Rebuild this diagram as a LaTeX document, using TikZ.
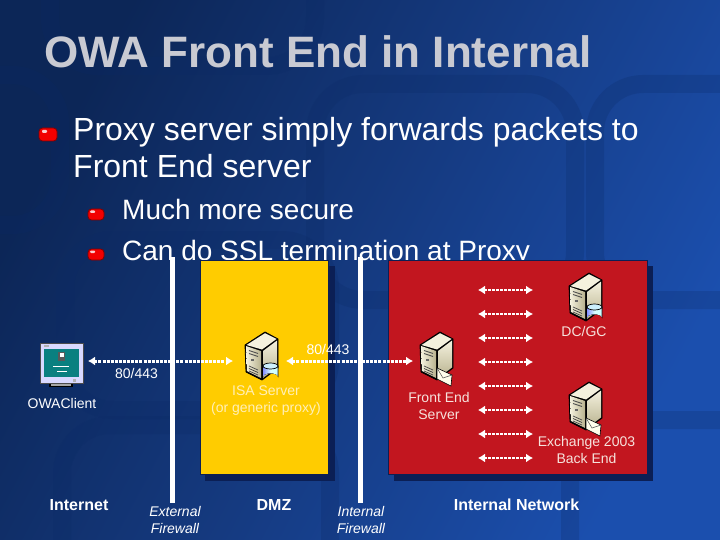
\documentclass[tikz,border=0pt]{standalone}
\usepackage{fontspec}
\setmainfont{Liberation Sans}
\usetikzlibrary{arrows.meta,shadings}
\definecolor{bgdark}{HTML}{0C2657}
\definecolor{bgmid}{HTML}{153A80}
\definecolor{bglight}{HTML}{1B4FAE}
\definecolor{band}{HTML}{0B2A66}
\definecolor{shadownavy}{HTML}{0B1F55}
\definecolor{dmzyellow}{HTML}{FFCC00}
\definecolor{netred}{HTML}{C2161F}
\definecolor{titlegrey}{HTML}{C9CAD2}
\definecolor{paleyellow}{HTML}{FFEFB8}
\definecolor{palered}{HTML}{F6E2DC}
\definecolor{teal}{HTML}{0A8080}
\definecolor{beigea}{HTML}{F4F1DE}
\definecolor{beigeb}{HTML}{B8B28E}
\newcommand{\fsz}[1]{\fontsize{#1}{#1}\selectfont}
\tikzset{
  x=1pt,y=-1pt,
  bgband/.style={draw=band,opacity=.24,line width=18pt,rounded corners=48pt},
  bulletbig/.style={draw=black!50!red,line width=.8pt,fill=red!95!black,rounded corners=3.5pt},
  bulletgloss/.style={fill=white,opacity=.8,rounded corners=1pt},
  titletext/.style={anchor=base west,inner sep=0pt,text=titlegrey,font=\bfseries\fsz{44}},
  bodyone/.style={anchor=base west,inner sep=0pt,text=white,font=\fsz{32}},
  bodytwo/.style={anchor=base west,inner sep=0pt,text=white,font=\fsz{28}},
  zonebox/.style={draw=shadownavy,line width=1pt},
  zoneshadow/.style={fill=shadownavy},
  firewallbar/.style={fill=white},
  flow/.style={white,line width=3pt,dash pattern=on 3pt off 1.1pt,{Latex[length=7pt,width=9pt]}-{Latex[length=7pt,width=9pt]}},
  flowshort/.style={white,line width=2.6pt,dash pattern=on 3pt off 1pt,{Latex[length=7pt,width=9pt]}-{Latex[length=7pt,width=9pt]}},
  smalltext/.style={inner sep=0pt,text=white,font=\fsz{14},align=center},
  yellowtext/.style={inner sep=0pt,text=paleyellow,font=\fsz{14},align=center},
  redtext/.style={inner sep=0pt,text=palered,font=\fsz{14},align=center},
  boldtext/.style={inner sep=0pt,text=white,font=\bfseries\fsz{16}},
  italictext/.style={inner sep=0pt,text=white,font=\itshape\fsz{14}},
  serverpic/.pic={
    \draw[line width=.8pt,line join=round,fill=black] (0,13)--(20,0)--(33,7)--(33,36)--(17,48)--(1,40)--cycle;
    \fill[left color=beigea,right color=beigeb] (1,14)--(16,19)--(16,46)--(2,39)--cycle;
    \fill[top color=beigea,bottom color=beigeb] (18,19)--(32,8.5)--(32,35.5)--(18,46)--cycle;
    \fill[beigea] (1.5,13)--(20,1.2)--(31.5,7)--(17,17.5)--cycle;
    \draw[black!70,line width=.8pt] (4,18.5)--(13,21.5) (4,21.5)--(13,24.5);
    \fill[black!60] (6,27) rectangle (9,29);
    \draw[black!75,line width=.7pt] (4,34)--(13,38) (4,36.5)--(13,40.5) (4,39)--(13,43);
  },
  dbpic/.pic={
    \draw[black,line width=.7pt,fill=cyan!30!blue!45] (0,4)--(0,14) arc[start angle=180,end angle=360,x radius=7.5,y radius=3] --(15,4);
    \fill[left color=cyan!10!blue!45,right color=cyan!25!white!85,middle color=white!85!cyan] (.5,4)--(.5,14) arc[start angle=180,end angle=360,x radius=7,y radius=2.7]--(14.5,4)--cycle;
    \draw[black,line width=.7pt,fill=cyan!20!white] (7.5,4) ellipse[x radius=7.5,y radius=3];
  },
  mailpic/.pic={
    \draw[black,line width=.6pt,fill=white!92!yellow] (0,0)--(15,7)--(14,18)--(0,11)--cycle;
    \draw[black!70,line width=.5pt] (0,0)--(6,10)--(15,7);
  },
  clientpic/.pic={
    \fill[black] (9,40) rectangle (33,44);
    \fill[gray!70] (11,40) rectangle (31,42.5);
    \draw[gray!60!black,line width=.5pt,fill=white!85!blue] (0,0) rectangle (43,40);
    \fill[teal] (4,6) rectangle (39,34);
    \fill[gray!60] (4,2) rectangle (9,3.5);
    \fill[gray!60] (33,36) rectangle (36,38.5);
    \fill[gray!70!black] (18,9) rectangle (25,18);
    \fill[white!85] (19.5,10) rectangle (23.5,14);
    \draw[white,line width=.8pt] (13,23)--(29,23) (17,28)--(27,28);
  }
}
\begin{document}
\begin{tikzpicture}
\useasboundingbox (0,0) rectangle (720,540);
\begin{scope}
\clip (0,0) rectangle (720,540);
\fill[top color=bgdark,bottom color=bglight,middle color=bgmid,shading angle=62] (0,0) rectangle (720,540);
% background motif
\draw[bgband] (50,-70) rectangle (315,66);
\draw[bgband] (315,84) rectangle (575,300);
\draw[bgband] (-70,75) rectangle (60,225);
\draw[bgband] (62,425) rectangle (330,640);
\draw[bgband] (595,84) rectangle (800,300);
\draw[bgband] (570,420) rectangle (800,640);
\draw[bgband] (65,240) rectangle (330,410);
\end{scope}

% title and bullets
\node[titletext] (title) at (44,68) {OWA Front End in Internal};
\node[bodyone] (b1a) at (73,141) {Proxy server simply forwards packets to};
\node[bodyone] (b1b) at (73,178) {Front End server};
\node[bodytwo] (b2) at (122,220) {Much more secure};
\node[bodytwo] (b3) at (122,260) {Can do SSL termination at Proxy};
\fill[bulletbig] (39,128) rectangle (57,141);
\fill[bulletgloss] (42,130) rectangle (47,133);
\fill[bulletbig] (88,209) rectangle (104,220);
\fill[bulletgloss] (90,210.5) rectangle (95,213);
\fill[bulletbig] (88,249) rectangle (104,260);
\fill[bulletgloss] (90,250.5) rectangle (95,253);

% zones
\fill[zoneshadow] (205,266) rectangle (335,481);
\filldraw[zonebox,fill=dmzyellow] (200,260) rectangle (328,474);
\fill[zoneshadow] (394,266) rectangle (653,481);
\filldraw[zonebox,fill=netred] (388,260) rectangle (647,474);

% firewalls
\fill[firewallbar] (170,257) rectangle (175,503);
\fill[firewallbar] (358,257) rectangle (363,503);

% icons
\pic at (40,343) {clientpic};
\pic at (245,332) {serverpic};
\pic at (263,362) {dbpic};
\pic at (420,332) {serverpic};
\pic at (437,368) {mailpic};
\pic at (569,273) {serverpic};
\pic at (587,303) {dbpic};
\pic at (569,382) {serverpic};
\pic at (586,418) {mailpic};

% connector ends
\coordinate (clientport) at (88,361);
\coordinate (isain) at (233,361);
\coordinate (isaout) at (286,361);
\coordinate (fein) at (413,361);
\foreach \n/\yy in {1/290,2/314,3/338,4/362,5/386,6/410,7/434,8/458}{
  \coordinate (l\n) at (478,\yy);
  \coordinate (r\n) at (533,\yy);
  \draw[flowshort] (l\n) -- (r\n);
}
\draw[flow] (clientport) -- (isain);
\draw[flow] (isaout) -- (fein);

% labels
\node[smalltext] (p1) at (136.5,373) {80/443};
\node[smalltext] (p2) at (328,349) {80/443};
\node[smalltext] (client) at (62,403) {OWAClient};
\node[yellowtext] (isa) at (266,400.5) {ISA Server\\[3pt](or generic proxy)};
\node[redtext] (fe) at (439,405.5) {Front End\\[3pt]Server};
\node[redtext] (dc) at (584,331) {DC/GC};
\node[redtext] (ex) at (586.5,449.5) {Exchange 2003\\[3pt]Back End};
\node[boldtext] (internet) at (79,505) {Internet};
\node[boldtext] (dmz) at (274,505) {DMZ};
\node[boldtext] (internal) at (516.5,505) {Internal Network};
\node[italictext,align=center] (ext) at (175,519.5) {External\\[3pt]Firewall};
\node[italictext,align=center] (int) at (361,519.5) {Internal\\[3pt]Firewall};
\end{tikzpicture}
\end{document}
